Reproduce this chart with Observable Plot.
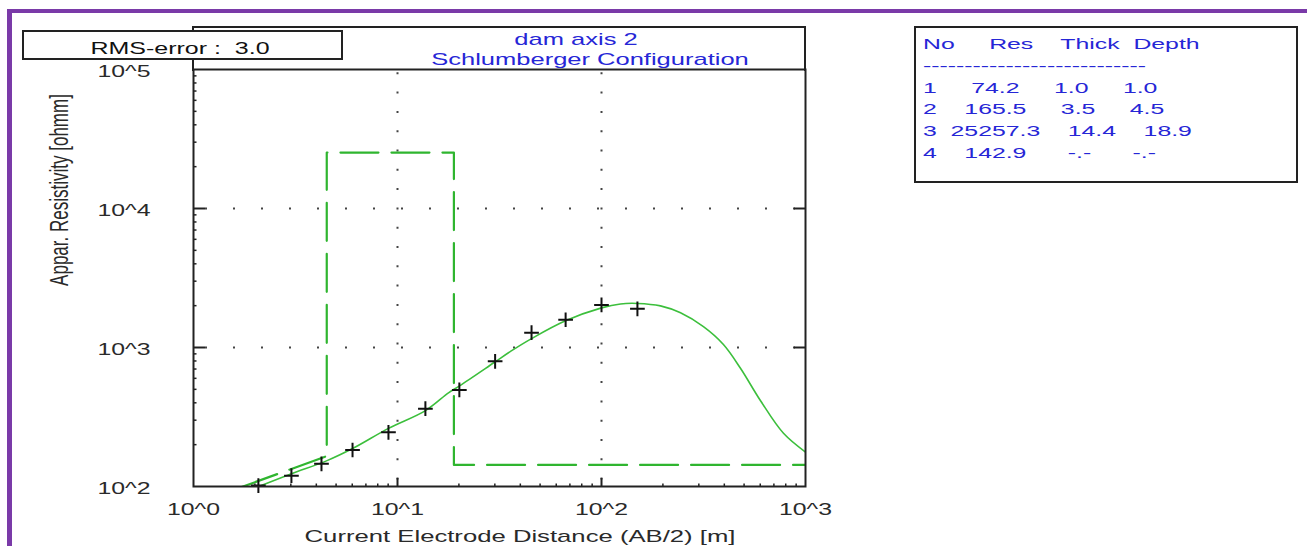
<!DOCTYPE html>
<html>
<head>
<meta charset="utf-8">
<script src="https://cdn.jsdelivr.net/npm/d3@7"></script>
<script src="https://cdn.jsdelivr.net/npm/@observablehq/plot@0.6"></script>
<style>
  html, body { margin: 0; padding: 0; background: #fff; }
  #wrap { position: relative; width: 1307px; height: 546px; overflow: hidden; background: #fff;
          font-family: "Liberation Sans", Arial, sans-serif; }
  #wrap svg { position: absolute; left: 0; top: 0; }
  .lbl { position: absolute; white-space: pre; line-height: 1; transform-origin: 50% 50%; }
  .box { position: absolute; box-sizing: border-box; }
</style>
</head>
<body>
<div id="wrap"></div>
<script>
// ---------- data ----------
const title1 = "dam axis 2";
const title2 = "Schlumberger Configuration";
const rmsText = "RMS-error :  3.0";
const xTitle = "Current Electrode Distance (AB/2) [m]";
const yTitle = "Appar. Resistivity [ohmm]";

const xDomain = [1, 1000];
const yDomain = [100, 100000];
const xTicks = [1, 10, 100, 1000];
const xTickLabels = ["10^0", "10^1", "10^2", "10^3"];
const yTicks = [100, 1000, 10000, 100000];
const yTickLabels = ["10^2", "10^3", "10^4", "10^5"];
const xGrid = [10, 100];
const yGrid = [1000, 10000];

// measured apparent resistivity (crosses)
const obsAB2 = [2.08, 3.02, 4.24, 6.02, 9.03, 13.7, 20.1, 30.1, 45.4, 66.7, 100, 150];
const obsRho = [101.6, 119.7, 145.6, 183, 245.5, 363, 495.5, 795.6, 1279, 1584, 2025, 1897];

// calculated (fitted) curve
const fitAB2 = [2.0, 3.022, 4.487, 6.085, 9.035, 13.72, 17.78, 20.13, 29.89, 35.8, 45.4, 66.6, 100, 123.9, 150.1, 194.6, 244, 316, 396, 480, 602, 780, 1000];
const fitRho = [97.5, 123.6, 152.9, 189.1, 262, 351.6, 471.8, 529, 783, 937, 1159, 1557, 1928, 2058, 2075, 1992, 1776, 1411, 1050, 709, 414, 241.5, 177];

// layer model
const layerNo = [1, 2, 3, 4];
const layerRes = [74.2, 165.5, 25257.3, 142.9];
const layerThick = [1.0, 3.5, 14.4, null];
const layerDepth = [1.0, 4.5, 18.9, null];

// ---------- derived tables ----------
const obs = obsAB2.map((x, i) => ({x, y: obsRho[i]}));
const fit = fitAB2.map((x, i) => ({x, y: fitRho[i]}));
const model = [
  {x: layerDepth[0], y: layerRes[0]},
  {x: layerDepth[1], y: layerRes[1]},
  {x: layerDepth[1], y: layerRes[2]},
  {x: layerDepth[2], y: layerRes[2]},
  {x: layerDepth[2], y: layerRes[3]},
  {x: xDomain[1], y: layerRes[3]}
];
const minorX = [], minorY = [];
[1, 10, 100].forEach(d => { for (let k = 2; k <= 9; k++) minorX.push(d * k); });
[100, 1000, 10000].forEach(d => { for (let k = 2; k <= 9; k++) minorY.push(d * k); });
const xInner = xTicks.slice(1, -1);
const yInner = yTicks.slice(1, -1);

const FONT = '"Liberation Sans", Arial, sans-serif';
const INK = "#222";
const TXT = "#2a2a2a";
const BLUE = "#2626d6";

const chart = Plot.plot({
  width: 1307, height: 546,
  marginLeft: 193, marginRight: 502, marginTop: 69, marginBottom: 60,
  style: {fontFamily: FONT, background: "transparent", overflow: "visible"},
  x: {type: "log", domain: xDomain, label: null},
  y: {type: "log", domain: yDomain, label: null},
  marks: [
    Plot.gridX(xGrid, {stroke: "#444", strokeOpacity: 1, strokeWidth: 2, strokeDasharray: "2,17.3", strokeDashoffset: 16}),
    Plot.gridY(yGrid, {stroke: "#444", strokeOpacity: 1, strokeWidth: 2, strokeDasharray: "2,26", strokeDashoffset: 16}),
    Plot.line(model, {x: "x", y: "y", stroke: "#2fb52f", strokeWidth: 2.2, strokeDasharray: "38,13", clip: true}),
    Plot.line(fit, {x: "x", y: "y", stroke: "#3cbf3c", strokeWidth: 1.6, curve: "catmull-rom", clip: true}),
    Plot.dot(obs, {x: "x", y: "y", symbol: "plus", r: 4.8, stroke: "#111", strokeWidth: 2}),
    Plot.frame({stroke: INK, strokeWidth: 2}),
    Plot.axisX(xInner, {anchor: "bottom", tickSize: -8, fill: "none", stroke: INK, strokeWidth: 2, label: null}),
    Plot.axisX(minorX, {anchor: "bottom", tickSize: -2.5, fill: "none", stroke: INK, strokeWidth: 1.5, label: null}),
    Plot.axisX(xTicks, {anchor: "bottom", tickSize: 0, tickPadding: 16, fontSize: 17, fill: TXT, label: null,
      tickFormat: d => xTickLabels[xTicks.indexOf(d)]}),
    Plot.axisY(yInner, {anchor: "left", tickSize: -12, fill: "none", stroke: INK, strokeWidth: 2, label: null}),
    Plot.axisY(minorY, {anchor: "left", tickSize: -3.5, fill: "none", stroke: INK, strokeWidth: 1.5, label: null}),
    Plot.axisY(yInner, {anchor: "right", tickSize: -12, fill: "none", stroke: INK, strokeWidth: 2, label: null}),
    Plot.axisY(yTicks, {anchor: "left", tickSize: 0, tickPadding: 43, fontSize: 17, fill: TXT, label: null, dy: 2.5,
      tickFormat: d => yTickLabels[yTicks.indexOf(d)]})
  ]
});

// horizontally stretched lettering, as in the reference
d3.select(chart).selectAll('g[aria-label$="tick label"] text').each(function () {
  const t = this.getAttribute("transform") || "";
  this.setAttribute("transform", `${t} scale(1.46,1)`);
});

const wrap = document.getElementById("wrap");
wrap.appendChild(chart);

function box(left, top, width, height, css) {
  const d = document.createElement("div");
  d.className = "box";
  Object.assign(d.style, {left: left + "px", top: top + "px", width: width + "px", height: height + "px"}, css);
  wrap.appendChild(d);
  return d;
}
function label(str, cx, cy, size, sx, color, rotate) {
  const s = document.createElement("div");
  s.className = "lbl";
  s.textContent = str;
  Object.assign(s.style, {left: cx + "px", top: cy + "px", fontSize: size + "px", color,
    transform: `translate(-50%,-50%) scaleX(${sx})${rotate ? ` rotate(${rotate}deg)` : ""}`});
  wrap.appendChild(s);
  return s;
}

// purple window frame
box(7, 9, 1300, 4, {background: "#7a3aa8"});
box(7, 9, 5, 537, {background: "#7a3aa8"});

// title box above the plot frame
box(192, 26, 614, 45, {borderTop: `2px solid ${INK}`, borderLeft: `2px solid ${INK}`, borderRight: `2px solid ${INK}`});
label(title1, 576, 39, 17, 1.5, BLUE);
label(title2, 590, 59, 17, 1.5, BLUE);

// axis titles
label(xTitle, 519.5, 536, 17, 1.51, TXT);
label(yTitle, 60, 190, 17, 1.5, TXT, -90);

// RMS box
box(22, 30, 321, 30, {border: `2px solid ${INK}`, background: "#fff"});
label(rmsText, 180, 47.5, 17, 1.47, "#111");

// layer table
box(914, 26, 384, 157, {border: `2px solid ${INK}`, background: "#fff"});
const f1 = v => v == null ? "-.-" : v.toFixed(1);
const cell = (v, w) => (v == null ? " ".repeat(w - 2) : " ".repeat(w - f1(v).length)) + f1(v);
const rows = ["No     Res    Thick  Depth", "-".repeat(27)].concat(
  layerNo.map((n, i) => `${n}${cell(layerRes[i], 9)}${cell(layerThick[i], 8)}${cell(layerDepth[i], 8)}`)
);
const tbl = document.createElement("div");
tbl.textContent = rows.join("\n");
Object.assign(tbl.style, {position: "absolute", left: "923px", top: "33px", whiteSpace: "pre",
  fontSize: "15.5px", lineHeight: "21.75px", color: BLUE, transform: "scaleX(1.6)", transformOrigin: "0 0"});
wrap.appendChild(tbl);
</script>
</body>
</html>
